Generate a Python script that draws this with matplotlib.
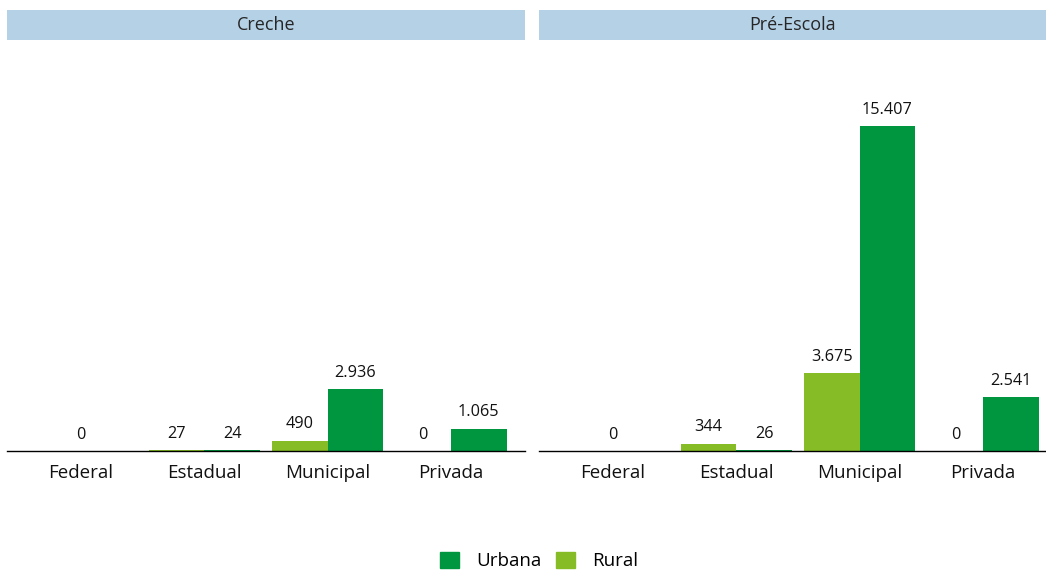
import matplotlib
matplotlib.use("Agg")
import matplotlib.pyplot as plt
from matplotlib.patches import Patch

plt.rcParams['font.family'] = ['Open Sans', 'DejaVu Sans']

categories = ["Federal", "Estadual", "Municipal", "Privada"]
panels = ["Creche", "Pré-Escola"]
# None = series absent for that category
rural = {
    "Creche":     [None, 27, 490, 0],
    "Pré-Escola": [None, 344, 3675, 0],
}
urbana = {
    "Creche":     [0, 24, 2936, 1065],
    "Pré-Escola": [0, 26, 15407, 2541],
}
series_names = ["Urbana", "Rural"]
col_urb = "#009640"
col_rur = "#86bc25"
strip_col = "#b5d1e6"

def fmt(v):
    return f"{v:,}".replace(",", ".")

W, H = 1046, 570
fig = plt.figure(figsize=(W / 100, H / 100), dpi=100)

def px_axes(x0, y0, x1, y1):
    return fig.add_axes([x0 / W, 1 - y1 / H, (x1 - x0) / W, (y1 - y0) / H])

panel_px = [(7, 525), (539, 1046)]
xlims = [(-0.6, 3.6), (-0.6, 3.51)]
ymax = 19484
bw = 0.45

for p, name in enumerate(panels):
    x0, x1 = panel_px[p]
    # strip
    sax = px_axes(x0, 10, x1, 40)
    sax.set_facecolor(strip_col)
    sax.set_xticks([]); sax.set_yticks([])
    for s in sax.spines.values():
        s.set_visible(False)
    sax.text(0.5, 0.5, name, ha="center", va="center", fontsize=13, color="#262626",
             transform=sax.transAxes)

    ax = px_axes(x0, 40, x1, 451)
    ax.set_xlim(*xlims[p])
    ax.set_ylim(0, ymax)
    for i, cat in enumerate(categories):
        r = rural[name][i]
        u = urbana[name][i]
        items = []
        if r is not None and u is not None:
            items = [(i - bw / 2, r, col_rur), (i + bw / 2, u, col_urb)]
        elif u is not None:
            items = [(i, u, col_urb)]
        elif r is not None:
            items = [(i, r, col_rur)]
        for xc, v, c in items:
            ax.bar(xc, v, width=bw, color=c, linewidth=0)
            ax.annotate(fmt(v), (xc, v), xytext=(0, 6), textcoords="offset points",
                        ha="center", va="bottom", fontsize=11.7, color="#111111")
    ax.set_xticks(range(len(categories)))
    ax.set_xticklabels(categories, fontsize=13.5, color="#111111")
    ax.tick_params(axis="x", length=0, pad=9)
    ax.set_yticks([])
    for s in ["top", "right", "left"]:
        ax.spines[s].set_visible(False)
    ax.spines["bottom"].set_color("black")
    ax.spines["bottom"].set_linewidth(1.0)
    ax.patch.set_alpha(0)

handles = [Patch(color=col_urb), Patch(color=col_rur)]
fig.legend(handles, series_names, loc="center", bbox_to_anchor=(539 / W, 1 - 561 / H),
           ncol=2, frameon=False, fontsize=13.5, handlelength=1.0, handleheight=1.0,
           columnspacing=0.8, handletextpad=0.9)

fig.savefig("out.png", dpi=100)
